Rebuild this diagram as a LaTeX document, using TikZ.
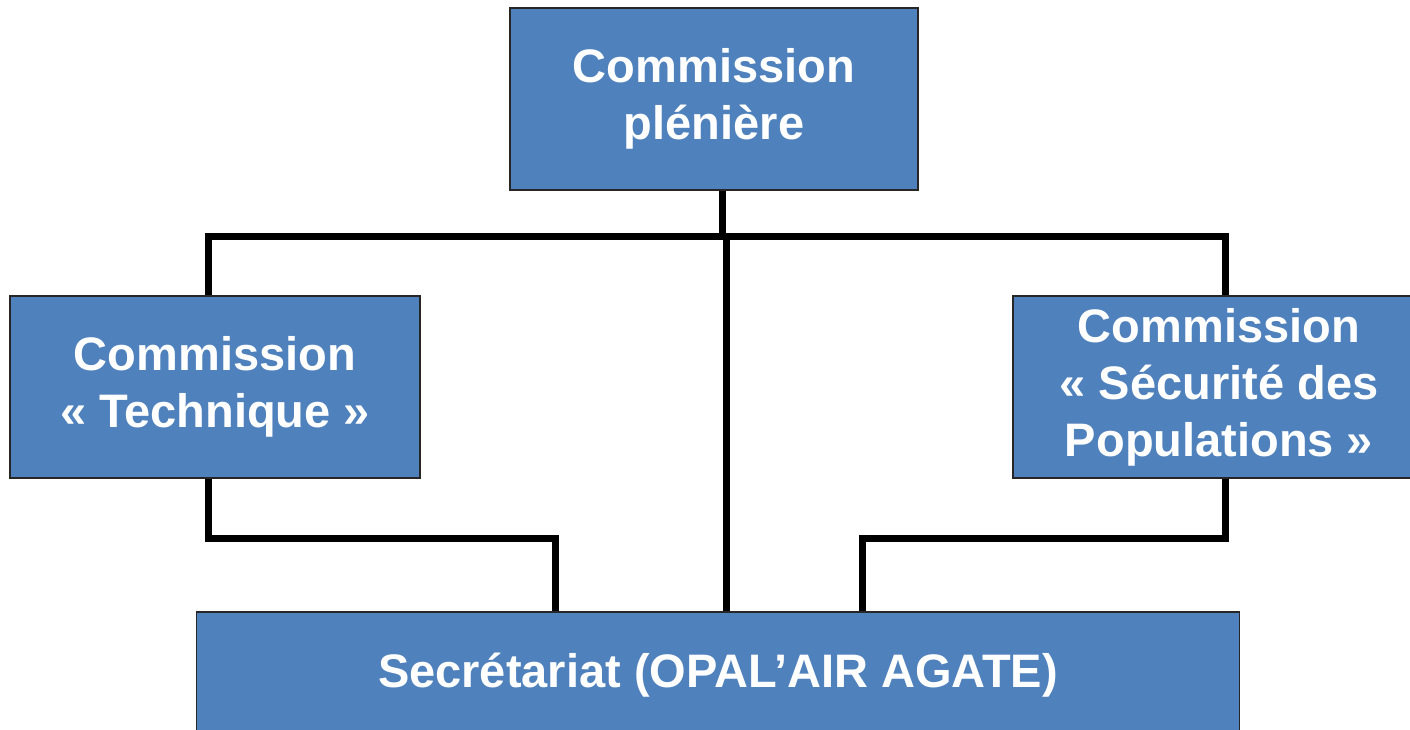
\documentclass[tikz,border=0pt]{standalone}
\usepackage{fontspec}
\setmainfont{Liberation Sans}
\definecolor{boxblue}{HTML}{4F81BD}
\tikzset{
  unit/.style={draw=black!85, line width=1.5pt, fill=boxblue, text=white,
    font=\fontsize{47}{57}\selectfont\bfseries, align=center, inner sep=0pt},
  link/.style={line width=7pt, draw=black}
}

\begin{document}
\begin{tikzpicture}[x=1pt,y=-1pt]
    \useasboundingbox (0,0) rectangle (1410,730);
    \node[unit, minimum width=408pt, minimum height=182pt] (plen) at (714,99) {Commission\\plénière};
    \node[unit, minimum width=410pt, minimum height=182pt] (tech) at (215,387) {Commission\\« Technique »};
    \node[unit, minimum width=412pt, minimum height=182pt] (secu) at (1219,387) {Commission\\« Sécurité des\\Populations »};
    \node[unit, minimum width=1043pt, minimum height=126pt] (secr) at (718,675) {Secrétariat (OPAL’AIR AGATE)};
    \coordinate (bus) at (726,236);
    \coordinate (lbend) at (555,538);
    \coordinate (rbend) at (862,538);
    \draw[link] ([xshift=8pt]plen.south) -- ([xshift=8pt]plen.south |- bus);
    \draw[link] ([xshift=-7pt]tech.north) |- (bus) -| ([xshift=6pt]secu.north);
    \draw[link] (bus) -- (bus |- secr.north);
    \draw[link] ([xshift=-7pt]tech.south) |- (lbend) -- (lbend |- secr.north);
    \draw[link] ([xshift=6pt]secu.south) |- (rbend) -- (rbend |- secr.north);
  \end{tikzpicture}
\end{document}
